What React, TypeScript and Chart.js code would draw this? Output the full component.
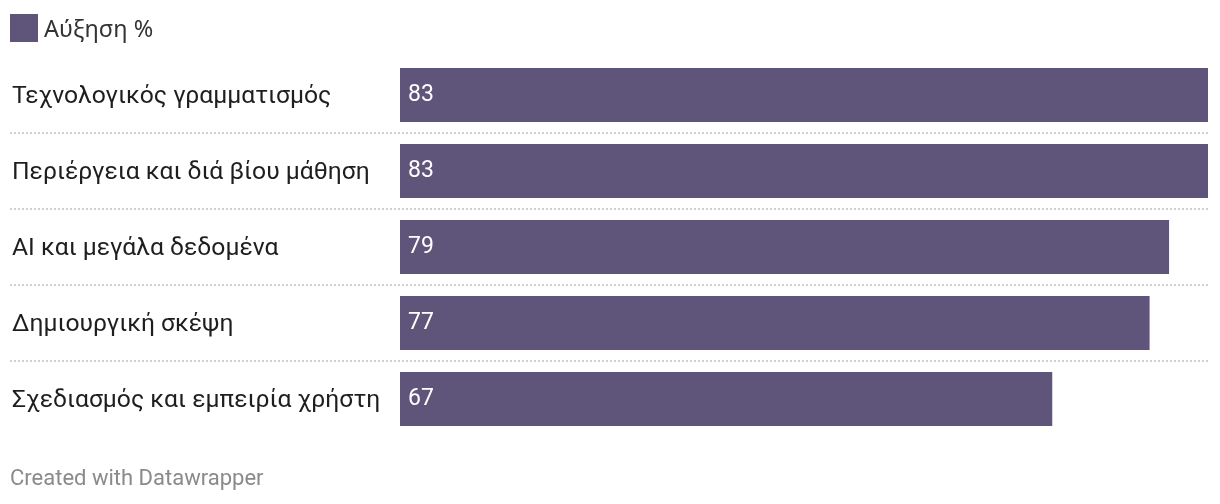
import React, { useEffect, useRef } from "react";
import { Chart, registerables } from "chart.js";

Chart.register(...registerables);

const categories = [
  "Τεχνολογικός γραμματισμός",
  "Περιέργεια και διά βίου μάθηση",
  "AI και μεγάλα δεδομένα",
  "Δημιουργική σκέψη",
  "Σχεδιασμός και εμπειρία χρήστη",
];
const growth = [83, 83, 79, 77, 67];
const seriesName = "Αύξηση %";
const footerText = "Created with Datawrapper";

const BAR_COLOR = "#5f5479";
const FONT = "Roboto, 'Noto Sans', sans-serif";

export default function App() {
  const ref = useRef<HTMLCanvasElement | null>(null);

  useEffect(() => {
    const canvas = ref.current;
    if (!canvas) return;

    const separators = {
      id: "separators",
      beforeDatasetsDraw(chart: any) {
        const ctx = chart.ctx;
        const y = chart.scales.y;
        ctx.save();
        ctx.strokeStyle = "#cfcfcf";
        ctx.lineWidth = 2;
        ctx.setLineDash([2, 2]);
        for (let i = 0; i < categories.length - 1; i++) {
          const py = Math.round((y.getPixelForValue(i) + y.getPixelForValue(i + 1)) / 2);
          ctx.beginPath();
          ctx.moveTo(10, py);
          ctx.lineTo(chart.chartArea.right, py);
          ctx.stroke();
        }
        ctx.restore();
      },
    };

    const valueLabels = {
      id: "valueLabels",
      afterDatasetsDraw(chart: any) {
        const ctx = chart.ctx;
        const meta = chart.getDatasetMeta(0);
        ctx.save();
        ctx.fillStyle = "#ffffff";
        ctx.font = `23px ${FONT}`;
        ctx.textAlign = "left";
        ctx.textBaseline = "middle";
        meta.data.forEach((bar: any, i: number) => {
          ctx.fillText(String(growth[i]), bar.base + 8, bar.y);
        });
        ctx.restore();
      },
    };

    const chart = new Chart(canvas, {
      type: "bar",
      data: {
        labels: categories,
        datasets: [
          {
            label: seriesName,
            data: growth,
            backgroundColor: BAR_COLOR,
            categoryPercentage: 1,
            barPercentage: 54 / 76,
          },
        ],
      },
      options: {
        indexAxis: "y",
        animation: false,
        responsive: false,
        maintainAspectRatio: false,
        layout: { padding: { left: 12, right: 12, top: 57, bottom: 67 } },
        plugins: {
          legend: { display: false },
          tooltip: { enabled: false },
        },
        scales: {
          x: {
            display: false,
            min: 0,
            max: 83,
          },
          y: {
            grid: { display: false },
            border: { display: false },
            afterFit(scale: any) {
              scale.width = 388;
            },
            ticks: {
              crossAlign: "far",
              color: "#1e1e1e",
              font: { family: FONT, size: 24.7 },
              padding: 0,
              labelOffset: 2,
            },
          },
        },
      },
      plugins: [separators, valueLabels],
    } as any);

    return () => chart.destroy();
  }, []);

  return (
    <div style={{ position: "absolute", left: 0, top: 0, width: 1220, height: 504, background: "#fff", fontFamily: FONT }}>
      <canvas ref={ref} width={1220} height={504} style={{ position: "absolute", left: 0, top: 0 }} />
      <div style={{ position: "absolute", left: 10, top: 14, display: "flex", alignItems: "center" }}>
        <div style={{ width: 28, height: 28, background: BAR_COLOR }} />
        <span style={{ marginLeft: 6, fontSize: 23.5, fontFamily: "'Noto Sans', sans-serif", color: "#333", lineHeight: "28px" }}>{seriesName}</span>
      </div>
      <div style={{ position: "absolute", left: 10, top: 464, fontSize: 22, color: "#8a8a8a", lineHeight: "28px" }}>
        {footerText}
      </div>
    </div>
  );
}
